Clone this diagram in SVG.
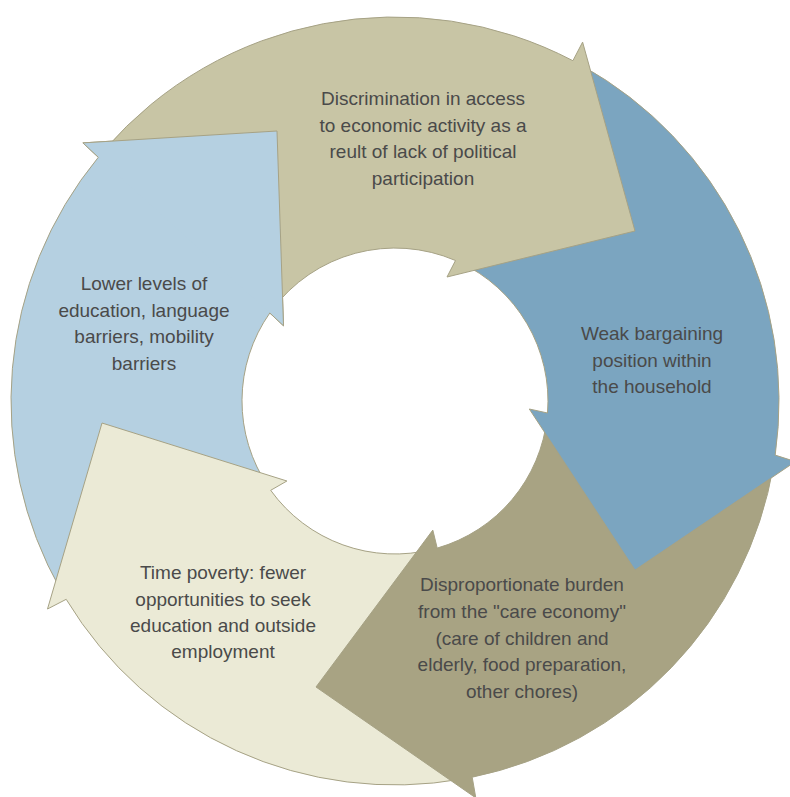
<svg xmlns="http://www.w3.org/2000/svg" width="790" height="797" viewBox="0 0 790 797">
<style>
.arrow{stroke:#a6a285;stroke-width:1;stroke-linejoin:miter}
.lb{fill:#b5d0e1}
.cream{fill:#ebead6}
.olive{fill:#a8a383}
.steel{fill:#7ba5c0}
.tan{fill:#c8c5a5}
.label{font-family:"Liberation Sans",Arial,sans-serif;font-size:19px;fill:#4a4a4a;text-anchor:middle}
</style>
<rect width="790" height="797" fill="#ffffff"/>
<g id="connectors"></g>
<g id="node-lower-levels">
<path class="arrow lb" d="M61.1,590.7 A384,384 0 0 1 98.3,157.3 L82.9,142.9 L277,131 L283.5,325.8 L269.8,313 A153,153 0 0 0 268.5,487 Z"/>
</g>
<g id="node-time-poverty">
<path class="arrow cream" d="M462.3,779 A384,384 0 0 1 66.2,599.3 L47.5,609 L102,423 L286.9,481 L270.7,490.3 A153,153 0 0 0 433.3,549.1 Z"/>
<text class="label" x="223" y="579">Time poverty: fewer</text>
<text class="label" x="223" y="605.5">opportunities to seek</text>
<text class="label" x="223" y="632">education and outside</text>
<text class="label" x="223" y="658">employment</text>
</g>
<g id="node-care-economy">
<path class="arrow olive" d="M773.6,465 A384,384 0 0 1 472.2,777.2 L475.8,797.9 L316,687 L432.8,530.1 L437.2,548.1 A153,153 0 0 0 547.2,417 Z"/>
<text class="label" x="522" y="591">Disproportionate burden</text>
<text class="label" x="522" y="618">from the "care economy"</text>
<text class="label" x="522" y="644.5">(care of children and</text>
<text class="label" x="522" y="671">elderly, food preparation,</text>
<text class="label" x="522" y="698">other chores)</text>
</g>
<g id="node-bargaining">
<path class="arrow steel" d="M581.7,65.5 A384,384 0 0 1 775.2,455.1 L795.4,461.6 L635,570 L529.3,409 L547.5,413 A153,153 0 0 0 459.2,262.1 Z"/>
<text class="label" x="652" y="340">Weak bargaining</text>
<text class="label" x="652" y="366.5">position within</text>
<text class="label" x="652" y="393">the household</text>
</g>
<g id="node-discrimination">
<path class="arrow tan" d="M104.7,149.6 A384,384 0 0 1 572.9,60.7 L582.6,42.1 L635,231 L447,277 L455.5,260.5 A153,153 0 0 0 272.2,309.8 Z"/>
<text class="label" x="423" y="105">Discrimination in access</text>
<text class="label" x="423" y="131.5">to economic activity as a</text>
<text class="label" x="423" y="158">reult of lack of political</text>
<text class="label" x="423" y="185">participation</text>
</g>
<g id="node-lower-levels-head">
<path class="lb" d="M98.3,157.3 L82.9,142.9 L277,131 L283.5,325.8 L269.8,313 Z"/>
<path class="arrow" fill="none" d="M98.3,157.3 L82.9,142.9 L277,131 L283.5,325.8 L269.8,313"/>
<text class="label" x="144" y="290">Lower levels of</text>
<text class="label" x="144" y="316.5">education, language</text>
<text class="label" x="144" y="343">barriers, mobility</text>
<text class="label" x="144" y="370">barriers</text>
</g>
</svg>
